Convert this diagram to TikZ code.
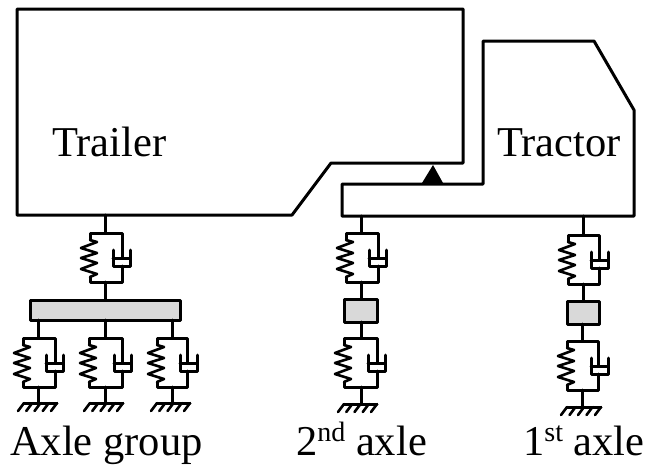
\documentclass[tikz,border=0pt]{standalone}
\usepackage{fontspec}
\setmainfont{Liberation Serif}
\tikzset{
  line/.style={draw=black,line width=3pt,line join=round,line cap=round},
  thin line/.style={draw=black,line width=2.6pt,line join=round,line cap=round},
  block/.style={line,fill=black!15},
  lab/.style={font=\fontsize{42.5}{42.5}\selectfont,inner sep=0pt,anchor=base west,text=black}
}
\newcommand{\supr}[1]{\raisebox{14pt}{\fontsize{28}{28}\selectfont #1}}
% stem x, top of stem, left, right, frame top, cup left, stem bottom
\newcommand{\kvunit}[7]{%
  \draw[line] (#1,#2) -- (#1,#5);
  \draw[line] (#3,#5+7) -- (#3,#5) -- (#4,#5) -- (#4,#5+25);
  \draw[line] (#4,#5+33) -- (#4,#5+49) -- (#3,#5+49) -- (#3,#5+44);
  \draw[thin line] (#3,#5+7) -- ++(7,2) -- ++(-16,6) -- ++(16,5) -- ++(-16,5) -- ++(16,5) -- ++(-16,6) -- ++(16,5) -- (#3,#5+44);
  \draw[line] (#6,#5+17) -- (#6,#5+33) -- (#6+17,#5+33) -- (#6+17,#5+17);
  \draw[line] (#6,#5+25) -- (#6+17,#5+25);
  \draw[line] (#1,#5+49) -- (#1,#7);
}
% stem x, left end, right end, y
\newcommand{\grnd}[4]{%
  \draw[line] (#2+6,#4) -- (#3,#4);
  \foreach \t in {0,0.25,0.5,0.75,1} {
    \draw[thin line] ({#2+6+(#3-#2-6)*\t},#4) -- ++(-6,8);
  }
}
\begin{document}
\begin{tikzpicture}[x=1pt,y=-1pt]
\useasboundingbox (0,0) rectangle (646,466);
% bodies
\draw[line] (17,9) -- (463,9) -- (463,163) -- (331,163) -- (292,215) -- (17,215) -- cycle;
\draw[line] (342,184) -- (483,184) -- (483,41) -- (594,41) -- (634,110) -- (634,216) -- (342,216) -- cycle;
\fill[black] (433,165) -- (443,183) -- (422,183) -- cycle;
% trailer suspension
\kvunit{105}{215}{90}{122}{233}{113}{300}
\draw[block] (30,300) rectangle (180,320.5);
\kvunit{38}{320}{23}{55}{338}{46}{403}
\grnd{38}{18}{57}{403}
\kvunit{105}{320}{89}{122}{338}{114}{403}
\grnd{105}{84}{123}{403}
\kvunit{172}{320}{157}{187}{338}{180}{403}
\grnd{172}{151}{190}{403}
% 2nd axle
\kvunit{361}{216}{346}{378}{233}{369}{299}
\draw[block] (344,299) rectangle (377,322);
\kvunit{361}{322}{344}{377}{338}{368}{404}
\grnd{361}{338}{377}{404}
% 1st axle
\kvunit{583}{216}{568}{599}{235}{591}{301}
\draw[block] (567,301) rectangle (599,324);
\kvunit{582}{324}{567}{598}{341}{591}{407}
\grnd{582}{561}{601}{407}
% labels
\node[lab] (trailer) at (52,156) {Trailer};
\node[lab] (tractor) at (497,156) {Tractor};
\node[lab] (axlegroup) at (10,455) {Axle group};
\node[lab] (second) at (296,455) {2\supr{nd} axle};
\node[lab] (first) at (523,455) {1\supr{st} axle};
\end{tikzpicture}
\end{document}
